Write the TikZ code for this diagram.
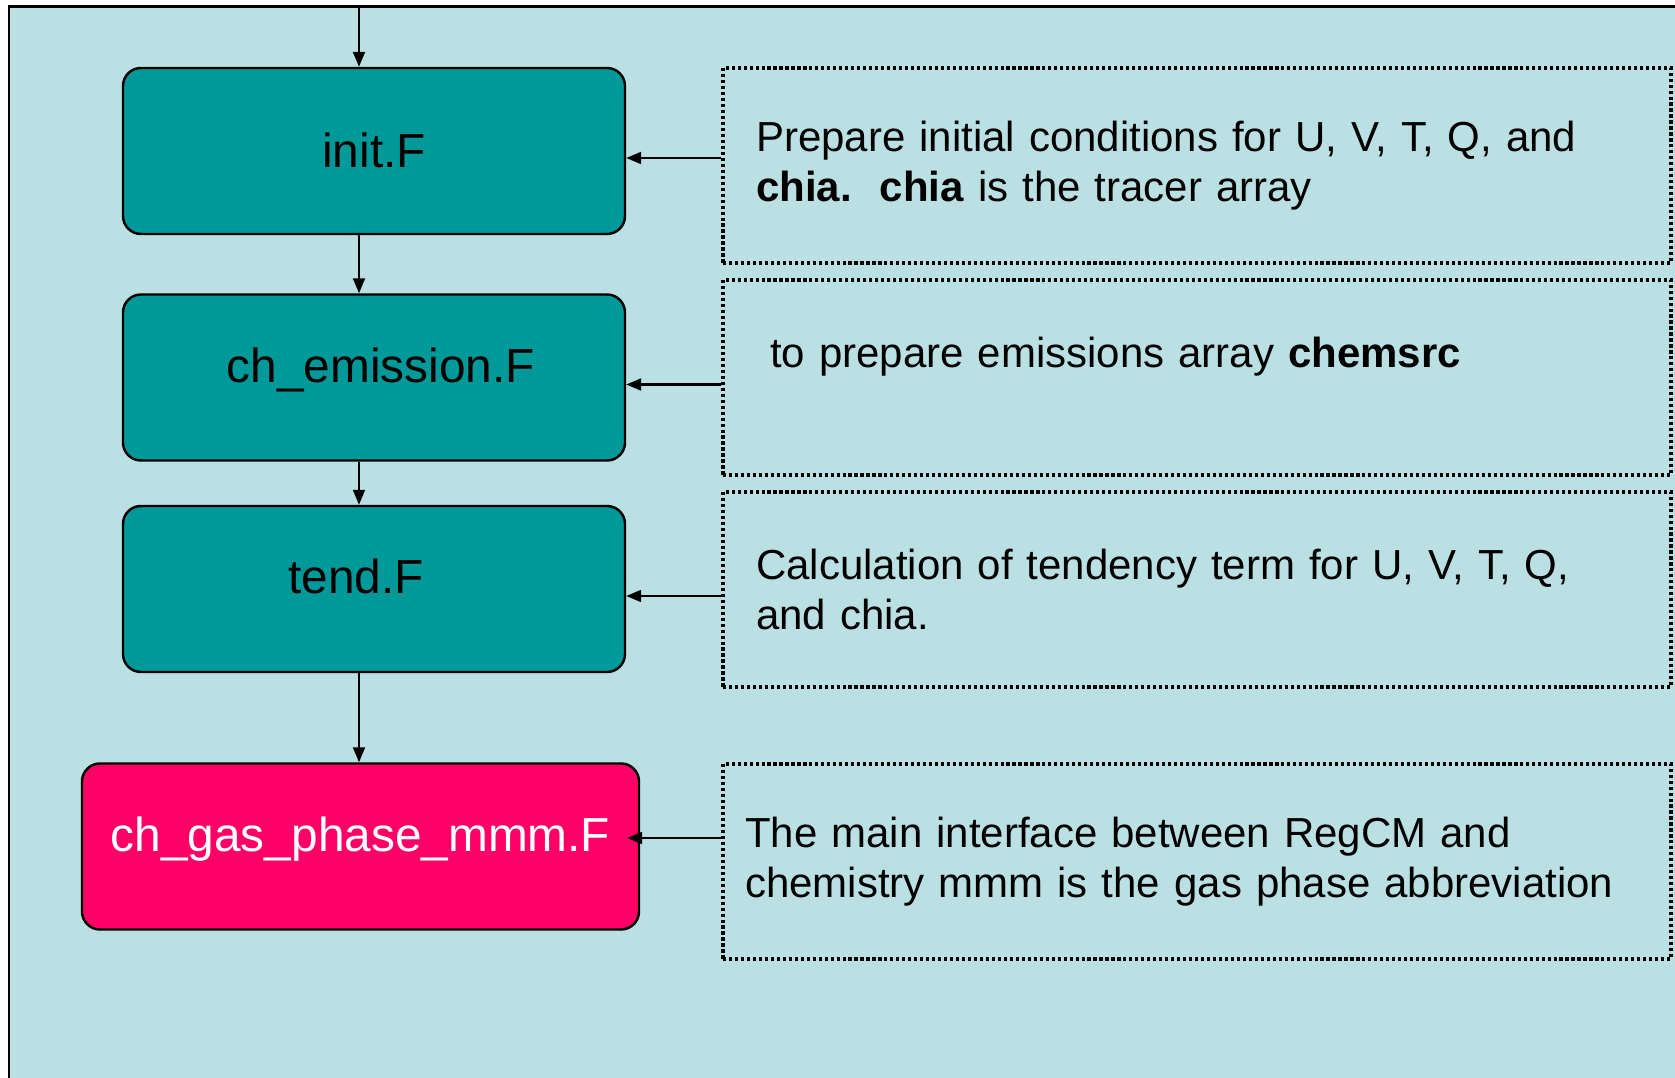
\documentclass[tikz,border=0pt]{standalone}
\usepackage{fontspec}
\setmainfont{Liberation Sans}
\usetikzlibrary{arrows.meta}
\definecolor{panel}{RGB}{187,224,227}
\definecolor{boxteal}{RGB}{0,153,153}
\definecolor{gaspink}{RGB}{255,0,102}

\begin{document}
\begin{tikzpicture}[
  proc/.style={draw, line width=0.7pt, fill=boxteal, rounded corners=0.18cm,
    minimum width=5.02cm, minimum height=1.66cm,
    font=\fontsize{13.6}{16}\selectfont, text height=0.40cm, text depth=0.30cm},
  note/.style={draw, line width=1pt, dash pattern=on 0.9pt off 0.8pt,
    minimum width=9.48cm, minimum height=1.95cm, inner xsep=0.33cm,
    text width=8.82cm, align=left, font=\fontsize{11.95}{14.4}\selectfont},
  arr/.style={line width=0.6pt, -{Triangle[length=0.15cm,width=0.12cm]}}]
  \useasboundingbox (0,0) rectangle (16.75,-10.78);
  \draw[fill=panel, line width=0.7pt] (0.09,-0.065) rectangle (17.5,-11.5);
  \coordinate (in) at (3.59,-0.065);
  % program steps
  \node[proc, text depth=0.06cm] (p1) at (3.74,-1.51) {init.F};
  \node[proc] (p2) at (3.74,-3.775) {\hspace*{0.14cm}ch\_emission.F};
  \node[proc] (p3) at (3.74,-5.89) {tend.F\hspace*{0.36cm}};
  \node[proc, fill=gaspink, text=white, minimum width=5.57cm] (p4) at (3.605,-8.465) {ch\_gas\_phase\_mmm.F};
  % notes
  \node[note] (d1) at (11.97,-1.655) {Prepare initial conditions for U, V, T, Q, and\\
    \textbf{chia.}\ \ \textbf{chia} is the tracer array};
  \node[note] (d2) at (11.97,-3.775) {~to prepare emissions array \textbf{chemsrc}\\ \mbox{}};
  \node[note] (d3) at (11.97,-5.895) {Calculation of tendency term for U, V, T, Q,\\
    and chia.};
  \node[note, inner xsep=0.22cm, text width=9.04cm] (d4) at (11.97,-8.615) {The main interface between RegCM and\\
    chemistry mmm is the gas phase abbreviation};
  \draw[arr] (in) -- (in |- p1.north);
  \foreach \i/\j in {1/2,2/3,3/4}
    \draw[arr] (in |- p\i.south) -- (in |- p\j.north);
  \foreach \i in {1,2,3}
    \draw[arr] ([yshift=-0.07cm]p\i.east -| d\i.west) -- ([yshift=-0.07cm]p\i.east);
  \draw[arr] ([yshift=0.085cm]p4.east -| d4.west) -- ([xshift=-0.13cm,yshift=0.085cm]p4.east);
\end{tikzpicture}
\end{document}
